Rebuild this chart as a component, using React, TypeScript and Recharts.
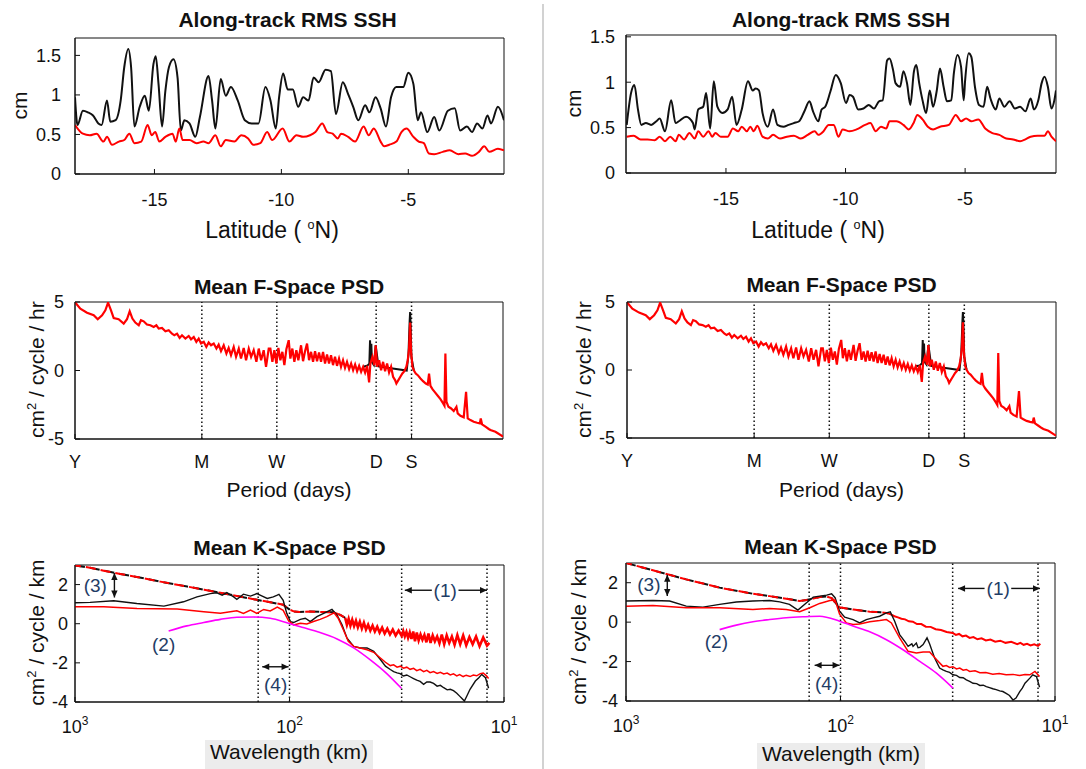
import React from "react";
import { LineChart, Line, XAxis, YAxis, ReferenceLine, ReferenceArea, ReferenceDot } from "recharts";

const FONT = "'Liberation Sans', Arial, Helvetica, sans-serif";
const INK = "#111";
const RED = "#ff0000";
const MAG = "#ff00ff";
const NOTE = "#1f3d66";

type P = [number, number];
const toPts = (a: P[]) => a.map(([x, v]) => ({ x, v }));

/* ── Along-track RMS SSH (latitude, cm) ── */
const sshBlackL: P[] = [
  [-18.13, 0.97], [-18.03, 0.62], [-17.82, 0.8], [-17.62, 0.78], [-17.42, 0.74], [-17.21, 0.64], [-17.08, 0.62],
  [-16.87, 0.93], [-16.74, 0.66], [-16.53, 0.68], [-16.33, 0.93], [-16.19, 1.35], [-16.03, 1.58], [-15.92, 1.35],
  [-15.79, 0.6], [-15.58, 0.85], [-15.38, 0.99], [-15.22, 0.8], [-15.04, 1.39], [-14.95, 1.49], [-14.84, 1.14],
  [-14.7, 0.6], [-14.57, 1.05], [-14.43, 1.35], [-14.25, 1.45], [-14.09, 1.22], [-13.96, 0.55], [-13.82, 0.68],
  [-13.62, 0.64], [-13.39, 0.47], [-13.21, 0.72], [-12.87, 1.24], [-12.73, 0.93], [-12.6, 0.575], [-12.39, 1.2],
  [-12.19, 0.99], [-11.99, 1.1], [-11.72, 0.93], [-11.44, 0.68], [-11.17, 0.64], [-10.9, 0.64], [-10.63, 1.1],
  [-10.43, 0.93], [-10.22, 0.575], [-10.09, 0.97], [-9.93, 1.27], [-9.75, 1.07], [-9.55, 1.07], [-9.34, 0.85],
  [-9.14, 0.97], [-8.93, 0.93], [-8.73, 1.22], [-8.53, 1.16], [-8.26, 1.32], [-8.05, 1.3], [-7.85, 0.76],
  [-7.58, 1.16], [-7.37, 1.01], [-7.17, 0.85], [-6.97, 0.68], [-6.7, 0.87], [-6.53, 0.78], [-6.29, 0.97],
  [-6.09, 0.83], [-5.88, 0.6], [-5.68, 0.97], [-5.47, 1.1], [-5.2, 1.1], [-5.0, 1.28], [-4.8, 1.14],
  [-4.63, 0.68], [-4.5, 0.78], [-4.25, 0.53], [-3.98, 0.72], [-3.78, 0.55], [-3.44, 0.8], [-3.17, 0.83],
  [-2.96, 0.55], [-2.69, 0.6], [-2.49, 0.53], [-2.29, 0.64], [-2.08, 0.575], [-1.88, 0.74], [-1.74, 0.64],
  [-1.47, 0.85], [-1.23, 0.68],
];
const sshRedL: P[] = [
  [-18.13, 0.62], [-17.82, 0.51], [-17.55, 0.49], [-17.28, 0.51], [-17.01, 0.41], [-16.87, 0.47], [-16.67, 0.37],
  [-16.4, 0.41], [-16.19, 0.43], [-15.99, 0.51], [-15.79, 0.39], [-15.52, 0.41], [-15.27, 0.62], [-15.11, 0.49],
  [-14.97, 0.53], [-14.81, 0.41], [-14.57, 0.47], [-14.29, 0.51], [-14.16, 0.41], [-14.02, 0.575], [-13.89, 0.43],
  [-13.62, 0.43], [-13.34, 0.39], [-13.07, 0.41], [-12.87, 0.39], [-12.6, 0.49], [-12.39, 0.35], [-12.19, 0.43],
  [-11.85, 0.41], [-11.58, 0.49], [-11.31, 0.45], [-11.11, 0.37], [-10.83, 0.39], [-10.56, 0.53], [-10.36, 0.43],
  [-9.95, 0.575], [-9.68, 0.41], [-9.41, 0.49], [-9.14, 0.47], [-8.87, 0.49], [-8.66, 0.53], [-8.39, 0.64],
  [-8.19, 0.53], [-7.98, 0.51], [-7.78, 0.45], [-7.65, 0.51], [-7.37, 0.47], [-7.1, 0.41], [-6.76, 0.6],
  [-6.56, 0.49], [-6.36, 0.575], [-6.09, 0.41], [-5.95, 0.35], [-5.75, 0.37], [-5.47, 0.41], [-5.27, 0.53],
  [-5.07, 0.575], [-4.8, 0.47], [-4.59, 0.41], [-4.39, 0.39], [-4.19, 0.26], [-3.98, 0.25], [-3.64, 0.28],
  [-3.37, 0.3], [-3.03, 0.25], [-2.76, 0.26], [-2.49, 0.23], [-2.22, 0.28], [-2.01, 0.35], [-1.81, 0.28],
  [-1.47, 0.32], [-1.23, 0.3],
];
const sshBlackR: P[] = [
  [-19.15, 0.53], [-18.97, 0.88], [-18.83, 0.97], [-18.68, 0.7], [-18.54, 0.53], [-18.35, 0.55], [-18.13, 0.53],
  [-17.91, 0.57], [-17.77, 0.6], [-17.55, 0.46], [-17.29, 0.8], [-17.11, 0.55], [-16.97, 0.57], [-16.67, 0.62],
  [-16.38, 0.55], [-16.31, 0.48], [-16.16, 0.7], [-15.95, 0.73], [-15.83, 0.88], [-15.66, 0.49], [-15.51, 1.01],
  [-15.36, 0.73], [-15.15, 0.66], [-14.93, 0.7], [-14.74, 0.84], [-14.56, 0.53], [-14.34, 0.7], [-14.08, 1.01],
  [-13.88, 0.91], [-13.76, 0.93], [-13.62, 0.91], [-13.47, 0.66], [-13.25, 0.51], [-13.03, 0.7], [-12.85, 0.53],
  [-12.6, 0.51], [-12.38, 0.53], [-12.16, 0.55], [-11.94, 0.57], [-11.72, 0.68], [-11.51, 0.79], [-11.36, 0.68],
  [-11.14, 0.57], [-11.0, 0.7], [-10.85, 0.73], [-10.63, 0.9], [-10.41, 1.08], [-10.2, 0.99], [-9.98, 0.77],
  [-9.83, 0.86], [-9.69, 0.84], [-9.47, 0.7], [-9.25, 0.71], [-9.03, 0.75], [-8.81, 0.71], [-8.6, 0.79],
  [-8.45, 0.8], [-8.26, 1.24], [-8.16, 1.26], [-8.01, 1.13], [-7.91, 0.99], [-7.72, 0.95], [-7.58, 1.12],
  [-7.43, 0.99], [-7.29, 0.75], [-7.14, 1.12], [-7.04, 1.19], [-6.92, 0.99], [-6.78, 0.8], [-6.63, 0.66],
  [-6.48, 0.91], [-6.34, 0.73], [-6.19, 0.9], [-6.05, 1.15], [-5.9, 0.95], [-5.76, 0.79], [-5.58, 0.8],
  [-5.47, 1.1], [-5.32, 1.3], [-5.17, 1.17], [-5.06, 0.8], [-5.0, 1.02], [-4.85, 1.32], [-4.74, 1.28],
  [-4.59, 0.95], [-4.42, 0.75], [-4.23, 0.73], [-4.08, 0.95], [-3.94, 0.82], [-3.72, 0.7], [-3.57, 0.82],
  [-3.36, 0.73], [-3.14, 0.79], [-2.92, 0.71], [-2.7, 0.73], [-2.48, 0.68], [-2.26, 0.82], [-2.12, 0.7],
  [-1.94, 0.8], [-1.8, 0.99], [-1.68, 1.06], [-1.54, 0.95], [-1.39, 0.71], [-1.27, 0.8], [-1.2, 0.91],
];
const sshRedR: P[] = [
  [-19.15, 0.4], [-18.86, 0.41], [-18.57, 0.37], [-18.28, 0.37], [-17.98, 0.36], [-17.77, 0.4], [-17.55, 0.35],
  [-17.33, 0.4], [-17.11, 0.35], [-16.97, 0.42], [-16.75, 0.37], [-16.53, 0.44], [-16.31, 0.38], [-16.16, 0.46],
  [-15.95, 0.4], [-15.73, 0.46], [-15.58, 0.4], [-15.44, 0.44], [-15.22, 0.4], [-14.93, 0.4], [-14.71, 0.49],
  [-14.49, 0.46], [-14.34, 0.51], [-14.13, 0.46], [-13.98, 0.51], [-13.84, 0.46], [-13.69, 0.52], [-13.47, 0.4],
  [-13.25, 0.38], [-13.03, 0.42], [-12.74, 0.38], [-12.45, 0.4], [-12.16, 0.41], [-11.87, 0.38], [-11.58, 0.42],
  [-11.29, 0.46], [-11.14, 0.42], [-10.92, 0.46], [-10.71, 0.53], [-10.49, 0.53], [-10.3, 0.4], [-10.12, 0.48],
  [-9.83, 0.46], [-9.54, 0.48], [-9.18, 0.53], [-8.96, 0.55], [-8.74, 0.46], [-8.52, 0.51], [-8.3, 0.49],
  [-8.16, 0.57], [-7.87, 0.57], [-7.58, 0.53], [-7.36, 0.48], [-7.14, 0.56], [-7.0, 0.64], [-6.78, 0.59],
  [-6.56, 0.51], [-6.34, 0.48], [-6.05, 0.51], [-5.68, 0.53], [-5.39, 0.64], [-5.17, 0.57], [-4.96, 0.6],
  [-4.74, 0.57], [-4.45, 0.59], [-4.16, 0.49], [-3.86, 0.44], [-3.57, 0.42], [-3.28, 0.38], [-2.99, 0.37],
  [-2.7, 0.35], [-2.48, 0.37], [-2.26, 0.4], [-1.97, 0.41], [-1.68, 0.41], [-1.54, 0.46], [-1.39, 0.4], [-1.2, 0.35],
];
const latTicks = [-15, -10, -5];
const sshTicks = [0, 0.5, 1, 1.5];

/* ── Mean F-space PSD: x = log10(period in days) ── */
const periodTicks = [2.5623, 1.4831, 0.8451, 0, -0.301];
const periodLabels = ["Y", "M", "W", "D", "S"];
const fRed: P[] = [
  [2.562, 4.98], [2.517, 4.51], [2.46, 4.22], [2.403, 4.03], [2.369, 3.74], [2.332, 4.03], [2.304, 4.39],
  [2.281, 4.95], [2.256, 4.39], [2.233, 3.83], [2.191, 3.74], [2.148, 3.42], [2.12, 3.74], [2.097, 4.32],
  [2.074, 3.79], [2.049, 3.5], [2.02, 3.3], [2.001, 3.67], [1.978, 3.59], [1.95, 3.35], [1.921, 3.3],
  [1.893, 3.18], [1.87, 3.3], [1.85, 3.06], [1.822, 3.11], [1.793, 2.86], [1.765, 2.94], [1.737, 2.69],
  [1.717, 2.57], [1.694, 2.69], [1.672, 2.38], [1.652, 2.57], [1.623, 2.33], [1.595, 2.52], [1.575, 2.28],
  [1.552, 2.45], [1.53, 2.09], [1.51, 2.33], [1.49, 1.97], [1.467, 2.09], [1.445, 1.72], [1.425, 2.04],
  [1.405, 1.84], [1.382, 1.97], [1.359, 1.6], [1.34, 1.89], [1.32, 1.41], [1.297, 1.84], [1.274, 1.24],
  [1.255, 1.65], [1.235, 1.12], [1.212, 1.72], [1.192, 1.0], [1.169, 1.6], [1.15, 0.87], [1.127, 1.65],
  [1.107, 0.75], [1.084, 1.6], [1.064, 1.0], [1.042, 1.48], [1.019, 0.63], [0.999, 1.6], [0.979, 0.75],
  [0.957, 1.48], [0.937, 0.27], [0.914, 1.6], [0.9, 1.6], [0.883, 0.63], [0.866, 1.48], [0.849, 0.51],
  [0.832, 1.65], [0.815, 0.75], [0.798, 1.36], [0.781, 0.39], [0.764, 1.55], [0.744, 2.21], [0.73, 0.87],
  [0.713, 1.6], [0.696, 0.63], [0.679, 1.48], [0.662, 0.75], [0.639, 1.84], [0.622, 0.68], [0.605, 1.41],
  [0.588, 1.97], [0.571, 0.75], [0.554, 1.36], [0.537, 0.63], [0.52, 1.41], [0.503, 0.68], [0.486, 1.31],
  [0.469, 0.63], [0.452, 1.36], [0.435, 0.51], [0.418, 1.17], [0.401, 0.51], [0.384, 1.12], [0.367, 0.39],
  [0.35, 1.0], [0.333, 0.34], [0.316, 0.87], [0.299, 0.27], [0.282, 0.75], [0.265, 0.19], [0.248, 0.63],
  [0.23, 0.1], [0.213, 0.51], [0.196, 0.02], [0.179, 0.44], [0.162, -0.05], [0.145, 0.34], [0.128, -0.1],
  [0.111, 0.27], [0.094, -0.15], [0.077, 0.34], [0.06, -0.87], [0.049, 0.51], [0.032, 1.0], [0.015, 0.39],
  [0.004, 1.84], [-0.008, 0.27], [-0.025, 0.75], [-0.042, 0.02], [-0.059, 0.63], [-0.076, -0.05], [-0.093, 0.51],
  [-0.11, -0.15], [-0.127, 0.27], [-0.144, -0.46], [-0.161, -0.7], [-0.172, -0.95], [-0.189, -0.7], [-0.206, -0.46],
  [-0.223, -0.22], [-0.24, -0.05], [-0.257, 0.27], [-0.269, 0.75], [-0.28, 1.6], [-0.289, 3.5], [-0.297, 1.36],
  [-0.309, 0.27], [-0.32, 0.02], [-0.337, -0.22], [-0.354, -0.34], [-0.377, -0.58], [-0.399, -0.78], [-0.422, -0.95],
  [-0.439, -1.02], [-0.45, -0.22], [-0.462, -1.12], [-0.479, -1.36], [-0.501, -1.6], [-0.524, -1.84], [-0.547, -2.09],
  [-0.57, -2.4], [-0.581, -2.57], [-0.589, 1.24], [-0.598, -2.28], [-0.615, -2.65], [-0.638, -2.77], [-0.66, -2.96],
  [-0.683, -2.65], [-0.694, -3.13], [-0.717, -3.3], [-0.745, -3.42], [-0.765, -1.55], [-0.779, -3.5], [-0.802, -3.62],
  [-0.83, -3.74], [-0.859, -3.81], [-0.882, -3.86], [-0.89, -3.5], [-0.901, -3.93], [-0.93, -4.1], [-0.958, -4.27],
  [-0.972, -4.34], [-1.015, -4.47], [-1.079, -4.83],
];
const fBlack: P[] = [
  [0.111, 0.27], [0.077, 0.34], [0.058, 0.5], [0.052, 2.2], [0.047, 0.6], [0.041, 1.95], [0.036, 0.6],
  [0.02, 0.4], [0.004, 1.84], [-0.02, 0.3], [-0.26, 0.0], [-0.275, 1.2], [-0.285, 3.6], [-0.289, 4.27],
  [-0.293, 3.4], [-0.3, 1.0], [-0.32, 0.02],
];

/* ── Mean K-space PSD: x = wavelength (km) ── */
const waveTicks = [10, 100, 1000];
const kDashL: P[] = [
  [1000, 2.98], [850, 2.86], [735, 2.71], [615, 2.54], [515, 2.39], [400, 2.15], [300, 1.9], [250, 1.74],
  [210, 1.58], [176, 1.42], [142, 1.22], [123, 1.1], [107, 0.97], [100, 0.72], [95, 0.62], [90, 0.6],
  [80, 0.62], [70, 0.6], [62, 0.58], [58, 0.45], [55, 0.3],
];
const kBandL: P[] = [
  [55, 0.3], [54, -0.05], [53, 0.25], [52, -0.1], [51, 0.2], [50, -0.12], [49, 0.15], [48, -0.18], [47, 0.1],
  [46, -0.25], [45, 0.05], [44, -0.3], [43, -0.05], [42, -0.35], [41, -0.1], [40, -0.4], [39, -0.15], [38, -0.45],
  [37, -0.2], [36, -0.5], [35, -0.25], [34, -0.55], [33, -0.3], [32, -0.6], [31, -0.35], [30, -0.62],
  [29.5, -0.38], [29, -0.65], [28.5, -0.42], [28, -0.72], [27.5, -0.45], [27, -0.78], [26.5, -0.4], [26, -0.9],
  [25.5, -0.45], [25, -0.85], [24.5, -0.55], [24, -0.82], [23.5, -0.58], [23, -0.95], [22.5, -0.5], [22, -0.98],
  [21.5, -0.6], [21, -0.9], [20.5, -0.65], [20, -1.0], [19.5, -0.55], [19, -1.05], [18.5, -0.6], [18, -0.98],
  [17.5, -0.65], [17, -1.08], [16.5, -0.58], [16, -1.05], [15.5, -0.6], [15, -1.1], [14.5, -0.68], [14, -1.05],
  [13.5, -0.65], [13, -1.15], [12.5, -0.7], [12, -1.12], [11.7, -0.98],
];
const kBlackL: P[] = [
  [1000, 1.07], [850, 1.09], [660, 1.17], [515, 1.03], [385, 0.9], [312, 1.12], [270, 1.37], [234, 1.54],
  [218, 1.58], [206, 1.46], [196, 1.59], [182, 1.37], [176, 1.24], [164, 1.51], [152, 1.41], [142, 1.54],
  [134, 1.41], [127, 1.29], [119, 1.37], [114, 1.46], [112, 1.5], [107, 1.2], [103, 0.53], [99, 0.11],
  [95.7, 0.06], [89, 0.22], [84.4, 0.28], [80, 0.11], [74.5, 0.36], [69.3, 0.53], [63.4, 0.73], [60.1, 0.45],
  [56.9, -0.06], [53.9, -0.74], [50.2, -1.16], [46.8, -1.24], [43.5, -1.24], [40.5, -1.41], [37.7, -1.83],
  [35.7, -2.17], [33.9, -2.34], [32.7, -2.45], [31.5, -2.51], [30.5, -2.55], [29.4, -2.67], [28.4, -2.62],
  [27.4, -2.71], [26.4, -2.8], [25.5, -2.88], [24.6, -2.95], [23.7, -3.1], [22.9, -2.98], [22.1, -2.98],
  [21.3, -3.05], [20.5, -3.19], [19.8, -3.15], [19.1, -3.27], [18.4, -3.38], [17.8, -3.35], [17.2, -3.42],
  [16.6, -3.55], [16.1, -3.7], [15.7, -3.82], [15.3, -3.95], [14.9, -3.69], [14.4, -3.35], [13.6, -2.93],
  [13.1, -2.76], [12.7, -2.59], [12.2, -2.76], [11.8, -3.3],
];
const kRedL: P[] = [
  [1000, 0.87], [735, 0.87], [514, 0.78], [334, 0.75], [251, 0.61], [210, 0.53], [176, 0.66], [164, 0.53],
  [152, 0.7], [142, 0.53], [132, 0.73], [123, 0.65], [114, 0.85], [107, 0.68], [101, 0.15], [95.7, -0.06],
  [89, 0.02], [83, -0.01], [77.3, 0.11], [72, 0.22], [67, 0.36], [62, 0.56], [59.3, 0.28], [56.1, -0.31],
  [53.2, -0.9], [50.2, -1.16], [46.8, -1.24], [43.5, -1.33], [40.5, -1.46], [37.7, -1.75], [35.7, -1.97],
  [33.9, -2.14], [32.7, -2.1], [31.5, -2.22], [30.4, -2.17], [29.4, -2.27], [28.4, -2.22], [27.4, -2.33],
  [26.4, -2.28], [25.5, -2.4], [24.6, -2.33], [23.7, -2.45], [22.9, -2.38], [22.1, -2.5], [21.3, -2.44],
  [20.5, -2.54], [19.8, -2.48], [19.1, -2.57], [18.4, -2.52], [17.8, -2.62], [17.2, -2.56], [16.6, -2.67],
  [16.1, -2.6], [15.5, -2.7], [15, -2.63], [14.4, -2.7], [13.9, -2.62], [13.4, -2.66], [12.9, -2.55],
  [12.5, -2.52], [12.1, -2.65], [11.8, -2.8],
];
const kFitL: P[] = [
  [366, -0.37], [301, -0.11], [251, 0.06], [210, 0.22], [176, 0.33], [147, 0.34], [123, 0.28], [101, 0.02],
  [89, -0.15], [74.5, -0.4], [60, -0.78], [50, -1.25], [42, -1.85], [35.2, -2.55], [30.1, -3.3],
];
const kDashR: P[] = [
  [1000, 3.0], [749, 2.63], [524, 2.17], [366, 1.75], [256, 1.44], [214, 1.32], [179, 1.19], [155, 1.07],
  [144, 1.12], [134, 1.2], [125, 1.28], [116, 1.3], [110, 1.22], [105, 0.95], [101, 0.75], [95, 0.7],
  [87, 0.64], [73, 0.53], [65, 0.5], [60, 0.45],
];
const kBandR: P[] = [
  [60, 0.45], [58, 0.38], [56, 0.3], [54, 0.24], [52, 0.17], [50, 0.14], [48, 0.04], [46, 0.02], [44, -0.1],
  [42, -0.1], [40, -0.23], [38, -0.24], [36, -0.36], [34, -0.4], [32, -0.5], [30, -0.55], [29, -0.65],
  [28, -0.6], [27, -0.72], [26, -0.68], [25, -0.8], [24, -0.76], [23, -0.87], [22, -0.82], [21, -0.93],
  [20, -0.88], [19, -0.99], [18, -0.94], [17, -1.05], [16, -1.0], [15, -1.12], [14.5, -1.05], [14, -1.15],
  [13.5, -1.1], [13, -1.18], [12.5, -1.12], [12, -1.2], [11.7, -1.1],
];
const kBlackR: P[] = [
  [1000, 1.07], [749, 1.1], [626, 1.07], [524, 0.81], [438, 0.76], [366, 0.9], [306, 1.02], [256, 1.07],
  [214, 1.1], [192, 1.03], [173, 0.9], [158, 0.61], [144, 0.98], [134, 1.27], [125, 1.32], [116, 1.37],
  [110, 1.44], [106, 1.24], [101, 0.56], [95.6, 0.25], [87.4, 0.13], [81.4, -0.04], [75.8, 0.13], [70.6, 0.22],
  [65.7, 0.3], [61.1, 0.47], [58.6, 0.52], [55.9, 0.05], [53, -0.63], [50, -1.0], [48.4, -1.23], [46.5, -1.1],
  [45.9, -1.23], [44.3, -1.06], [43.5, -1.3], [42.7, -1.28], [41.2, -1.14], [39.5, -0.8], [38.4, -1.11],
  [37.3, -1.5], [36.4, -1.82], [34.5, -2.33], [33.3, -2.42], [32.1, -2.5], [31, -2.55], [29.9, -2.67],
  [28.8, -2.7], [27.8, -2.81], [26.8, -2.82], [25.9, -2.93], [25, -3.0], [24.1, -3.1], [23.2, -3.12],
  [22.4, -3.21], [21.6, -3.2], [20.9, -3.27], [20.2, -3.32], [19.5, -3.38], [18.8, -3.42], [18.1, -3.49],
  [17.5, -3.52], [16.9, -3.61], [16.3, -3.72], [15.7, -3.95], [15.2, -3.85], [14.6, -3.52], [14.2, -3.35],
  [13.8, -3.1], [13.1, -2.84], [12.7, -2.67], [12.2, -2.76], [11.8, -3.3],
];
const kRedR: P[] = [
  [1000, 0.81], [749, 0.85], [524, 0.73], [366, 0.73], [256, 0.64], [214, 0.69], [179, 0.64], [155, 0.53],
  [139, 0.73], [125, 0.95], [112, 1.1], [106, 1.12], [101, 0.4], [93.9, -0.04], [87.4, -0.12], [81.4, -0.09],
  [73.1, 0.02], [65.7, 0.08], [61.1, 0.13], [57.9, -0.04], [53, -0.8], [48.4, -1.48], [44.3, -1.57],
  [41.2, -1.51], [38.4, -1.51], [35.7, -1.9], [33.3, -2.24], [32.1, -2.2], [31, -2.3], [29.9, -2.26],
  [28.8, -2.37], [27.8, -2.33], [26.8, -2.44], [25.9, -2.4], [25, -2.5], [23.6, -2.47], [22.4, -2.57],
  [21, -2.55], [19.5, -2.64], [18.2, -2.6], [16.9, -2.67], [15.7, -2.65], [14.6, -2.71], [13.8, -2.66],
  [13.1, -2.67], [12.4, -2.5], [11.8, -2.76],
];
const kFitR: P[] = [
  [366, -0.38], [306, -0.15], [256, 0.02], [214, 0.13], [179, 0.22], [150, 0.27], [125, 0.3], [101, 0.05],
  [87.4, -0.2], [73.1, -0.49], [61.1, -0.89], [51.1, -1.4], [42.7, -1.99], [35.7, -2.59], [29.9, -3.35],
];
const kDotted = [140, 100, 30, 12];

/* ── ticks ── */
const tickText = { fontFamily: FONT, fontSize: 18, fill: INK };
const YTick = (p: any) => (
  <text x={p.x} y={p.y} dy="0.35em" textAnchor="end" style={tickText}>{p.payload.value}</text>
);
const NumTick = (p: any) => (
  <text x={p.x} y={p.y} dy="0.35em" textAnchor="middle" style={tickText}>{p.payload.value}</text>
);
const PeriodTick = (p: any) => (
  <text x={p.x} y={p.y} dy="0.35em" textAnchor="middle" style={tickText}>
    {periodLabels[periodTicks.indexOf(p.payload.value)]}
  </text>
);
const LogTick = (p: any) => (
  <text x={p.x} y={p.y} dy="0.35em" textAnchor="middle" style={tickText}>
    10<tspan dy={-8} fontSize={12}>{Math.round(Math.log10(p.payload.value))}</tspan>
  </text>
);

/* ── annotation shapes ── */
const arrowShape = (both: boolean) => (p: any) => {
  const { x1, y1, x2, y2 } = p;
  const a = Math.atan2(y2 - y1, x2 - x1);
  const head = (x: number, y: number, ang: number) => {
    const bx = x - 7 * Math.cos(ang), by = y - 7 * Math.sin(ang);
    const s = 3.2 * Math.sin(ang), c = 3.2 * Math.cos(ang);
    return `${x},${y} ${bx + s},${by - c} ${bx - s},${by + c}`;
  };
  return (
    <g>
      <line x1={x1} y1={y1} x2={x2} y2={y2} stroke={INK} strokeWidth={1.4} />
      <polygon points={head(x2, y2, a)} fill={INK} />
      {both && <polygon points={head(x1, y1, a + Math.PI)} fill={INK} />}
    </g>
  );
};
const noteShape = (s: string) => (p: any) => (
  <text x={p.cx} y={p.cy} dy="0.35em" textAnchor="middle" style={{ fontFamily: FONT, fontSize: 19, fill: NOTE }}>{s}</text>
);

type Box = { x0: number; x1: number; y0: number; y1: number };

function plot(box: Box, o: any, series: React.ReactNode[]) {
  const w = box.x1 - box.x0 + 90;
  const h = box.y1 - box.y0 + 120;
  return (
    <div style={{ position: "absolute", left: box.x0 - 70, top: box.y0 - 40 }}>
      <LineChart width={w} height={h} margin={{ top: 40, right: 20, bottom: 40, left: 10 }}>
        <XAxis dataKey="x" type="number" scale={o.xScale || "linear"} domain={o.xDomain} ticks={o.xTicks}
          reversed={!!o.reversed} allowDataOverflow interval={0} height={40} stroke={INK}
          tickSize={-5} tickMargin={o.xGap + 5} tick={o.xTick} />
        <YAxis type="number" domain={o.yDomain} ticks={o.yTicks} allowDataOverflow interval={0} width={60}
          stroke={INK} tickSize={-5} tickMargin={o.yGap + 5} tick={YTick} />
        <ReferenceArea x1={o.xDomain[0]} x2={o.xDomain[1]} y1={o.yDomain[0]} y2={o.yDomain[1]}
          fill="none" stroke={INK} strokeWidth={1} />
        {series}
      </LineChart>
    </div>
  );
}

const line = (key: string, data: P[], color: string, width: number, extra: any = {}) => (
  <Line key={key} data={toPts(data)} dataKey="v" stroke={color} strokeWidth={width} dot={false}
    activeDot={false} isAnimationActive={false} type="linear" {...extra} />
);
const dotted = (key: string, x: number) => (
  <ReferenceLine key={key} x={x} stroke={INK} strokeDasharray="1.5 2.5" strokeWidth={1.5} />
);

function sshPanel(box: Box, xDomain: number[], yDomain: number[], black: P[], red: P[], yGap: number) {
  return plot(box, { xDomain, xTicks: latTicks, xTick: NumTick, xGap: 26, yDomain, yTicks: sshTicks, yGap }, [
    line("b", black, INK, 2, { type: "monotone" }),
    line("r", red, RED, 2, { type: "monotone" }),
  ]);
}

function fPanel(box: Box, yGap: number) {
  return plot(box, {
    xDomain: [-1.0792, 2.5623], reversed: true, xTicks: periodTicks, xTick: PeriodTick, xGap: 23,
    yDomain: [-5, 5], yTicks: [-5, 0, 5], yGap,
  }, [
    ...periodTicks.slice(1).map((t, i) => dotted("d" + i, t)),
    line("b", fBlack, INK, 2),
    line("r", fRed, RED, 2.2),
  ]);
}

function kPanel(box: Box, yGap: number, d: any, n: any) {
  return plot(box, {
    xScale: "log", xDomain: [10, 1000], reversed: true, xTicks: waveTicks, xTick: LogTick, xGap: 25,
    yDomain: [-4, 3], yTicks: [-4, -2, 0, 2], yGap,
  }, [
    ...kDotted.map((t, i) => dotted("d" + i, t)),
    line("dk", d.dash, INK, 2, { strokeDasharray: "10 5" }),
    line("dr", d.dash, RED, 2, { strokeDasharray: "10 5", strokeDashoffset: 4 }),
    line("band", d.band, RED, d.bandW),
    line("bk", d.black, INK, 1.4),
    line("rd", d.red, RED, 1.5),
    line("fit", d.fit, MAG, 1.6, { type: "monotone" }),
    <ReferenceLine key="a1" segment={[{ x: n.a1[0], y: n.y1 }, { x: n.a1[1], y: n.y1 }]} shape={arrowShape(false)} />,
    <ReferenceLine key="a2" segment={[{ x: n.a2[0], y: n.y1 }, { x: n.a2[1], y: n.y1 }]} shape={arrowShape(false)} />,
    <ReferenceDot key="t1" x={n.t1} y={n.y1} r={0} shape={noteShape("(1)")} />,
    <ReferenceDot key="t2" x={n.t2[0]} y={n.t2[1]} r={0} shape={noteShape("(2)")} />,
    <ReferenceDot key="t3" x={n.t3[0]} y={n.t3[1]} r={0} shape={noteShape("(3)")} />,
    <ReferenceLine key="a3" segment={[{ x: n.a3[0], y: n.a3[1] }, { x: n.a3[0], y: n.a3[2] }]} shape={arrowShape(true)} />,
    <ReferenceLine key="a4" segment={[{ x: n.a4[0], y: n.a4[2] }, { x: n.a4[1], y: n.a4[2] }]} shape={arrowShape(true)} />,
    <ReferenceDot key="t4" x={n.t4[0]} y={n.t4[1]} r={0} shape={noteShape("(4)")} />,
  ]);
}

/* ── HTML text ── */
function Txt({ x, y, size, bold, children, w = 360 }: any) {
  return (
    <div style={{
      position: "absolute", left: x - w / 2, top: y - size * 0.6, width: w, textAlign: "center",
      fontSize: size, lineHeight: `${size * 1.2}px`, fontWeight: bold ? 700 : 400, color: INK, whiteSpace: "nowrap",
    }}>{children}</div>
  );
}
function VTxt({ x, y, size, children, w = 300 }: any) {
  return (
    <div style={{
      position: "absolute", left: x - w / 2, top: y - size * 0.6, width: w, textAlign: "center",
      fontSize: size, lineHeight: `${size * 1.2}px`, color: INK, whiteSpace: "nowrap",
      transform: "rotate(-90deg)", transformOrigin: `${w / 2}px ${size * 0.6}px`,
    }}>{children}</div>
  );
}
const sup = (s: string, f = 0.62) => <sup style={{ fontSize: `${f}em`, lineHeight: 0 }}>{s}</sup>;

export default function App() {
  const L1 = { x0: 75, x1: 504, y0: 38, y1: 174 };
  const R1 = { x0: 626, x1: 1056, y0: 35, y1: 173 };
  const L2 = { x0: 75, x1: 503, y0: 302, y1: 439 };
  const R2 = { x0: 627, x1: 1056, y0: 302, y1: 438 };
  const L3 = { x0: 75, x1: 504, y0: 565, y1: 702 };
  const R3 = { x0: 626, x1: 1055, y0: 563, y1: 701 };
  const mid = (b: Box) => (b.x0 + b.x1) / 2;

  const notesL = {
    y1: 1.71, a1: [21.7, 29], a2: [16.3, 12], t1: 18.8, t2: [386, -1.07], t3: [804, 1.96],
    a3: [655, 2.59, 1.34], a4: [134, 101, -2.2], t4: [116, -3.1],
  };
  const notesR = {
    y1: 1.71, a1: [21.3, 28.3], a2: [16, 11.75], t1: 18.4, t2: [379, -0.97], t3: [782, 1.92],
    a3: [642, 2.4, 1.33], a4: [132, 101, -2.19], t4: [116, -3.1],
  };

  return (
    <div style={{ position: "absolute", left: 0, top: 0, width: 1086, height: 769, background: "#fff", overflow: "hidden", fontFamily: FONT }}>
      <div style={{ position: "absolute", left: 542, top: 4, width: 2, height: 765, background: "#d2d2d2" }} />

      <div style={{ position: "absolute", left: 205, top: 740, width: 168, height: 29, background: "#ececec" }} />
      <div style={{ position: "absolute", left: 757, top: 743, width: 168, height: 26, background: "#ececec" }} />

      {sshPanel(L1, [-18.13, -1.23], [0, 1.72], sshBlackL, sshRedL, 14)}
      {sshPanel(R1, [-19.18, -1.2], [0, 1.52], sshBlackR, sshRedR, 11)}
      {fPanel(L2, 11)}
      {fPanel(R2, 12)}
      {kPanel(L3, 7, { dash: kDashL, band: kBandL, bandW: 2.6, black: kBlackL, red: kRedL, fit: kFitL }, notesL)}
      {kPanel(R3, 8, { dash: kDashR, band: kBandR, bandW: 2, black: kBlackR, red: kRedR, fit: kFitR }, notesR)}

      <Txt x={mid(L1) - 2} y={20} size={21} bold>Along-track RMS SSH</Txt>
      <Txt x={mid(R1)} y={20} size={21} bold>Along-track RMS SSH</Txt>
      <Txt x={mid(L2)} y={287} size={21} bold>Mean F-Space PSD</Txt>
      <Txt x={mid(R2)} y={285} size={21} bold>Mean F-Space PSD</Txt>
      <Txt x={mid(L3)} y={548} size={21} bold>Mean K-Space PSD</Txt>
      <Txt x={mid(R3)} y={547} size={21} bold>Mean K-Space PSD</Txt>

      <Txt x={272} y={231} size={23}>Latitude ( {sup("o", 0.55)}N)</Txt>
      <Txt x={818} y={231} size={23}>Latitude ( {sup("o", 0.55)}N)</Txt>
      <Txt x={mid(L2)} y={490} size={21}>Period (days)</Txt>
      <Txt x={mid(R2)} y={490} size={21}>Period (days)</Txt>

      <Txt x={289} y={752} size={21}>Wavelength (km)</Txt>
      <Txt x={841} y={754} size={21}>Wavelength (km)</Txt>

      <VTxt x={20} y={106} size={21}>cm</VTxt>
      <VTxt x={574} y={104} size={21}>cm</VTxt>
      <VTxt x={37} y={370} size={21}>cm{sup("2")} / cycle / hr</VTxt>
      <VTxt x={584} y={370} size={21}>cm{sup("2")} / cycle / hr</VTxt>
      <VTxt x={37} y={633} size={21}>cm{sup("2")} / cycle / km</VTxt>
      <VTxt x={579} y={632} size={21}>cm{sup("2")} / cycle / km</VTxt>
    </div>
  );
}
